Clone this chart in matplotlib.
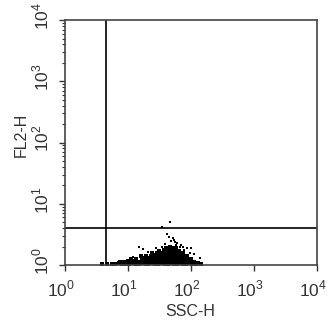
import numpy as np
import matplotlib
matplotlib.use('Agg')
import matplotlib.pyplot as plt
from matplotlib.transforms import ScaledTranslation

plt.rcParams['font.family'] = ['Liberation Sans', 'DejaVu Sans']
plt.rcParams['mathtext.fontset'] = 'custom'
plt.rcParams['mathtext.rm'] = 'Liberation Sans'

# quadrant gates
gate_x = 4.5
gate_y = 4.0

# dense events near the baseline (SSC-H, FL2-H)
dense_x = [3.8, 4.6, 5.5, 6.3, 7.2, 8.1, 9.2, 10.5, 12, 13.5, 15, 17, 19, 21, 24, 27, 30, 34, 38, 43,
           48, 54, 60, 67, 75, 84, 94, 105, 118, 130, 145,
           7.5, 8.6, 10, 11.5, 13, 15, 17.5, 20, 23, 26, 29, 33, 37, 41, 46, 51, 57, 64, 71, 79, 88, 99, 112,
           11, 13.5, 16.5, 19.5, 22.5, 26, 30, 34, 38, 42, 47, 52, 58, 64, 71, 79, 88, 98,
           16, 19.5, 23, 27, 31, 35, 39, 43, 47, 51, 56, 62, 69, 77, 85,
           24, 29, 34, 38, 42, 46, 50, 55, 61, 68, 75,
           31, 37, 42, 47, 52, 58, 64,
           40, 46, 52, 57]
dense_y = [1.04, 1.03, 1.05, 1.04, 1.06, 1.03, 1.05, 1.04, 1.06, 1.05, 1.04, 1.06, 1.05, 1.04, 1.06, 1.05, 1.04, 1.06, 1.05, 1.04,
           1.06, 1.05, 1.04, 1.06, 1.05, 1.04, 1.06, 1.05, 1.04, 1.06, 1.05,
           1.14, 1.12, 1.15, 1.13, 1.16, 1.14, 1.15, 1.16, 1.14, 1.17, 1.15, 1.16, 1.18, 1.16, 1.17, 1.15, 1.18, 1.16, 1.17, 1.15, 1.14, 1.13, 1.12,
           1.24, 1.26, 1.28, 1.27, 1.29, 1.30, 1.28, 1.31, 1.30, 1.32, 1.31, 1.30, 1.32, 1.30, 1.29, 1.27, 1.26, 1.24,
           1.40, 1.42, 1.43, 1.44, 1.45, 1.47, 1.46, 1.48, 1.47, 1.49, 1.47, 1.46, 1.44, 1.42, 1.40,
           1.56, 1.58, 1.60, 1.62, 1.63, 1.64, 1.63, 1.62, 1.60, 1.58, 1.55,
           1.72, 1.75, 1.78, 1.80, 1.78, 1.76, 1.72,
           1.90, 1.94, 1.92, 1.88]

# sparse events above the main cluster
sparse_x = [34, 46, 42, 44, 15, 17, 28, 35, 55, 70, 85, 100, 88, 25, 21, 51, 60, 78, 95, 110, 12, 140,
            48, 53, 39, 66, 74, 31, 57]
sparse_y = [4.2, 5.0, 3.2, 2.9, 2.0, 1.82, 1.9, 2.0, 2.4, 2.1, 1.9, 1.9, 1.46, 1.63, 1.63, 2.76, 2.3, 1.75, 1.6, 1.5, 1.35, 1.3,
            2.5, 2.6, 2.2, 2.0, 1.95, 1.75, 2.15]

tick_vals = [1, 10, 100, 1000, 10000]
tick_labels = ['$10^0$', '$10^1$', '$10^2$', '$10^3$', '$10^4$']

fig = plt.figure(figsize=(3.29, 3.24), dpi=100)
ax = fig.add_axes([0.198, 0.182, 0.7655, 0.756])

ax.scatter(dense_x, dense_y, s=9, c='black', marker='s', linewidths=0)
ax.scatter(sparse_x, sparse_y, s=3, c='black', marker='s', linewidths=0)

ax.axvline(gate_x, color='black', lw=1.2)
ax.axhline(gate_y, color='black', lw=1.2)

ax.set_xscale('log')
ax.set_yscale('log')
ax.set_xlim(1, 1e4)
ax.set_ylim(1, 1e4)

ax.set_xticks(tick_vals)
ax.set_yticks(tick_vals)
ax.set_xticklabels(tick_labels)
ax.set_yticklabels(tick_labels, rotation=90, va='center')

ax.tick_params(which='major', direction='out', length=4, width=1, labelsize=12.5, colors='#333333', labelcolor='#333333')
ax.tick_params(which='minor', direction='out', length=2.5, width=0.8, colors='#333333')
ax.tick_params(axis='y', pad=6)
ax.tick_params(axis='x', pad=6)

for s in ax.spines.values():
    s.set_linewidth(1.2)
    s.set_color('#444444')

# labels sit a bit left / above their ticks in the original
for lab in ax.get_xticklabels():
    lab.set_transform(lab.get_transform() + ScaledTranslation(-0.04, 0, fig.dpi_scale_trans))
for lab in ax.get_yticklabels():
    lab.set_transform(lab.get_transform() + ScaledTranslation(0, 0.04, fig.dpi_scale_trans))

ax.set_xlabel('SSC-H', fontsize=11.5, color='#333333')
ax.set_ylabel('FL2-H', fontsize=11.5, color='#333333')
ax.xaxis.set_label_coords(0.496, -0.158)
ax.yaxis.set_label_coords(-0.145, 0.53)

fig.savefig('out.png', dpi=100)
